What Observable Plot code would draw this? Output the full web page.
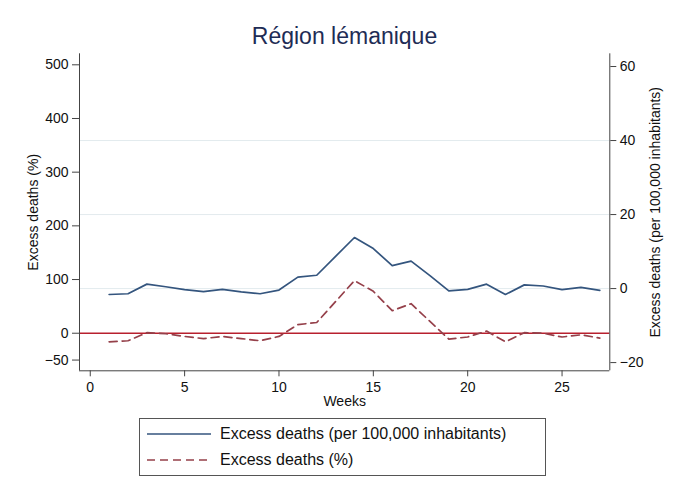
<!DOCTYPE html>
<html>
<head>
<meta charset="utf-8">
<script src="https://cdn.jsdelivr.net/npm/d3@7"></script>
<script src="https://cdn.jsdelivr.net/npm/@observablehq/plot@0.6"></script>
<style>
  html, body { margin: 0; padding: 0; background: #fff; }
  body { width: 675px; height: 494px; position: relative; overflow: hidden; font-family: "Liberation Sans", Arial, Helvetica, sans-serif; }
  #title { position: absolute; left: 0; top: 21px; width: 689px; text-align: center; font-size: 23px; color: #1e2c55; line-height: 30px; }
  #chart { position: absolute; left: 0; top: 50px; }
  #legend { position: absolute; left: 139px; top: 418px; width: 407px; height: 58px; border: 1px solid #555; box-sizing: border-box; }
  .row { position: absolute; left: 0; height: 20px; display: flex; align-items: center; font-size: 16px; color: #111; white-space: nowrap; }
  .row svg { margin-left: 7px; margin-right: 9px; }
</style>
</head>
<body>
<div id="title">Région lémanique</div>
<div id="chart"></div>
<div id="legend"></div>
<script>
// ---- data ----
const weeks = [1,2,3,4,5,6,7,8,9,10,11,12,13,14,15,16,17,18,19,20,21,22,23,24,25,26,27];
const perCapita = [-1.6,-1.4,1.2,0.5,-0.3,-0.8,-0.2,-0.9,-1.4,-0.4,3.1,3.6,8.7,13.8,10.8,6.2,7.4,3.5,-0.6,-0.2,1.2,-1.6,1.0,0.7,-0.3,0.3,-0.5];
const percent = [-16,-14,1,-1,-6,-10,-6,-10,-14,-6,16,20,59,98,78,42,55,22,-11,-7,4,-16,1,0,-7,-3,-9];
const xTicks = [0,5,10,15,20,25];
const leftTicks = [-50,0,100,200,300,400,500];
const rightTicks = [-20,0,20,40,60];
const gridRight = [0,20,40];
const labels = {
  title: "Région lémanique",
  x: "Weeks",
  left: "Excess deaths (%)",
  right: "Excess deaths (per 100,000 inhabitants)",
  s1: "Excess deaths (per 100,000 inhabitants)",
  s2: "Excess deaths (%)"
};

const blue = "#34557e";
const red = "#95404a";
const zeroRed = "#b8202e";

const xDomain = [-0.57, 27.53];
const yDomain = [-70, 520.5];
const rDomain = [-22.22, 63.44];
// map right-axis values into left-axis units
const r2l = d3.scaleLinear().domain(rDomain).range(yDomain);

const data = weeks.map((w, i) => ({week: w, pc: perCapita[i], pct: percent[i]}));

const font = "'Liberation Sans', Arial, Helvetica, sans-serif";
const fs = 14;
const chart = Plot.plot({
  width: 675,
  height: 360,
  marginTop: 3.3,
  marginBottom: 39.7,
  marginLeft: 79,
  marginRight: 65.7,
  x: {domain: xDomain},
  y: {domain: yDomain},
  style: {fontFamily: font, fontSize: fs + "px", color: "#111", background: "#fff", overflow: "visible"},
  marks: [
    Plot.ruleY(gridRight.map(r2l), {stroke: "#e3ebee", strokeWidth: 1}),
    Plot.ruleY([0], {stroke: zeroRed, strokeWidth: 1.4}),
    Plot.lineY(data, {x: "week", y: d => r2l(d.pc), stroke: blue, strokeWidth: 1.7}),
    Plot.lineY(data, {x: "week", y: "pct", stroke: red, strokeWidth: 1.7, strokeDasharray: "8,5"}),
    Plot.ruleX([xDomain[0], xDomain[1]], {stroke: "#444", strokeWidth: 1}),
    Plot.ruleY([yDomain[0]], {stroke: "#444", strokeWidth: 1}),
    Plot.axisX({ticks: xTicks, tickSize: 6, tickPadding: 5, label: null, stroke: "#444", fontSize: fs}),
    Plot.axisY({anchor: "left", ticks: leftTicks, tickSize: 7, tickPadding: 4, label: null, stroke: "#444", fontSize: fs}),
    Plot.axisY({anchor: "right", ticks: rightTicks.map(r2l), tickFormat: v => d3.format("d")(Math.round(r2l.invert(v))), tickSize: 6, tickPadding: 4, label: null, stroke: "#444", fontSize: fs}),
    Plot.text([labels.x], {frameAnchor: "bottom", dy: 35, fontSize: fs, fill: "#111", textAnchor: "middle"}),
    Plot.text([labels.left], {frameAnchor: "left", rotate: -90, dx: -46, fontSize: fs, fill: "#111", textAnchor: "middle"}),
    Plot.text([labels.right], {frameAnchor: "right", rotate: -90, dx: 46, fontSize: fs, fill: "#111", textAnchor: "middle"})
  ]
});
document.getElementById("chart").appendChild(chart);

// legend
const legend = document.getElementById("legend");
const items = [
  {label: labels.s1, color: blue, dash: null, top: 5},
  {label: labels.s2, color: red, dash: "8,5", top: 31}
];
for (const it of items) {
  const row = document.createElement("div");
  row.className = "row";
  row.style.top = it.top + "px";
  row.innerHTML = `<svg width="64" height="6"><line x1="0" x2="64" y1="3" y2="3" stroke="${it.color}" stroke-width="1.7" ${it.dash ? `stroke-dasharray="${it.dash}"` : ""}/></svg><span>${it.label}</span>`;
  legend.appendChild(row);
}
</script>
</body>
</html>
